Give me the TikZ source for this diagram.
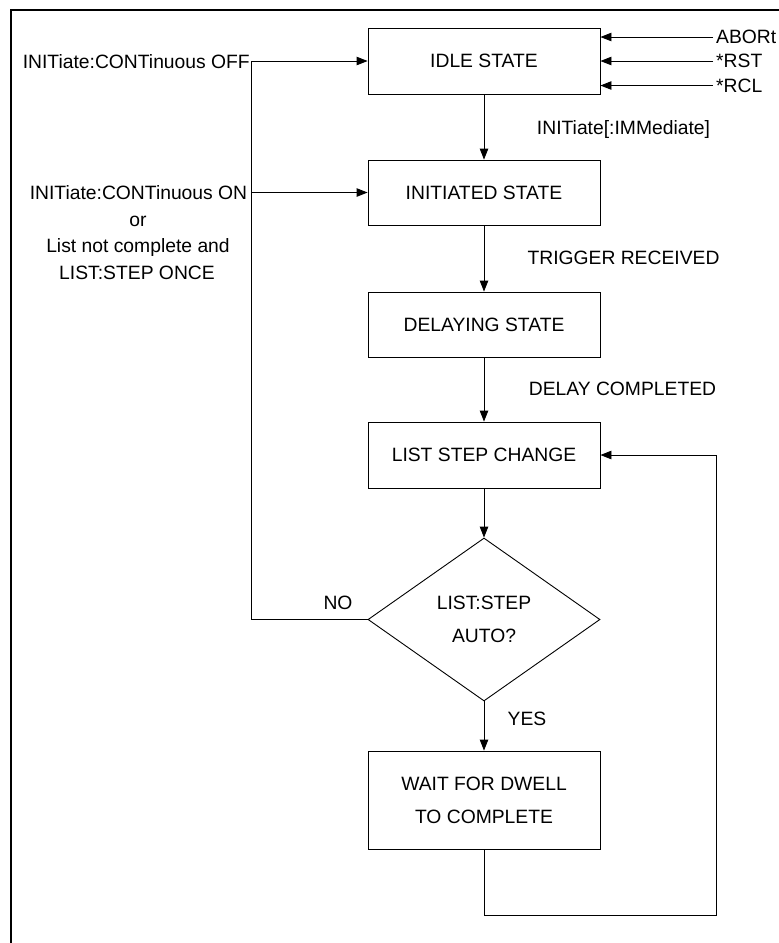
\documentclass[tikz,border=0pt]{standalone}
\usepackage{fontspec}
\setmainfont{Liberation Sans}
\usetikzlibrary{shapes.geometric,arrows.meta}
\tikzset{
  txt/.style={font=\fontsize{19.3}{33}\selectfont, text=black},
  statebox/.style={txt, draw=black, line width=0.9pt, minimum width=232pt, minimum height=66pt, inner sep=0pt, align=center},
  decision/.style={txt, draw=black, line width=0.9pt, diamond, aspect=1.42, minimum width=232pt, minimum height=163pt, inner sep=0pt, align=center},
  lbl/.style={txt, anchor=base, inner sep=0pt},
  inlbl/.style={txt, anchor=west, inner sep=3pt},
  conn/.style={draw=black, line width=0.9pt},
  arr/.style={conn, -{Triangle[length=11pt,width=8.5pt]}},
  frame/.style={draw=black, line width=2pt}
}
\begin{document}
\begin{tikzpicture}[x=1pt,y=-1pt]
\useasboundingbox (0,0) rectangle (779,943);
\draw[frame] (779,10) -- (11,10) -- (11,943);

% states
\node[statebox] (idle) at (484,61) {IDLE STATE};
\node[statebox, minimum height=65pt] (init) at (484,192.5) {INITIATED STATE};
\node[statebox, minimum height=65pt] (delay) at (484,324.5) {DELAYING STATE};
\node[statebox] (lsc) at (484,455) {LIST STEP CHANGE};
\node[decision] (dia) at (484,619.5) {LIST:STEP\\AUTO?};
\node[statebox, minimum height=98pt] (wait) at (484,800) {WAIT FOR DWELL\\TO COMPLETE};

% transition labels
\node[lbl] (limm) at (623.5,134) {INITiate[:IMMediate]};
\node[lbl] (ltrig) at (623.5,264) {TRIGGER RECEIVED};
\node[lbl] (ldel) at (622.5,395) {DELAY COMPLETED};
\node[lbl] (lno) at (338,609) {NO};
\node[lbl] (lyes) at (527,725) {YES};

% left labels
\node[lbl, anchor=base east] (loff) at (250,68) {INITiate:CONTinuous OFF};
\node[lbl] (lon) at (138.5,199.5) {INITiate:CONTinuous ON};
\node[lbl] (lor) at (138,226) {or};
\node[lbl] (llist) at (138,252.5) {List not complete and};
\node[lbl] (lonce) at (137,279) {LIST:STEP ONCE};

% right inputs
\node[inlbl] (abort) at (713,37) {ABORt};
\node[inlbl] (rst) at (713,61) {*RST};
\node[inlbl] (rcl) at (713,85.5) {*RCL};
\draw[arr] (abort.west) -- (idle.east |- abort.west);
\draw[arr] (rst.west) -- (idle.east |- rst.west);
\draw[arr] (rcl.west) -- (idle.east |- rcl.west);

% main flow
\draw[arr] (idle.south) -- (init.north);
\draw[arr] (init.south) -- (delay.north);
\draw[arr] (delay.south) -- (lsc.north);
\draw[arr] (lsc.south) -- (dia.north);
\draw[arr] (dia.south) -- (wait.north);

% NO loop back
\coordinate (jtop) at (251.5,61);
\coordinate (jmid) at (251.5,192.5);
\coordinate (jbot) at (251.5,619.5);
\draw[conn] (dia.west) -- (jbot) -- (jtop);
\draw[arr] (jtop) -- (idle.west);
\draw[arr] (jmid) -- (init.west);

% dwell loop
\coordinate (rb) at (716,915);
\draw[arr] (wait.south) |- (rb) |- (lsc.east);
\end{tikzpicture}
\end{document}
